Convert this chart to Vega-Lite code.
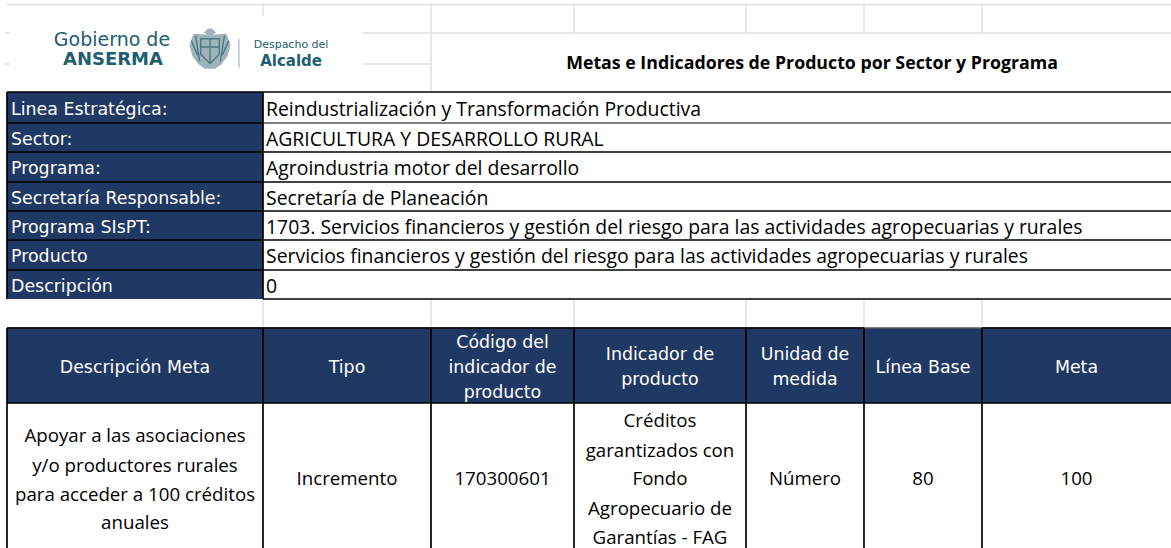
{
"$schema":"https://vega.github.io/schema/vega-lite/v6.json",
"width":1171,"height":548,"padding":0,
"autosize":{"type":"fit","contains":"padding"},
"background":"white",
"view":{"stroke":null},
"datasets":{
"navy":[{"c0":1,"c1":2,"r0":4,"r1":11},{"c0":1,"c1":8,"r0":12,"r1":13}],
"gray":[
{"c0":1,"c1":8,"r0":1,"r1":1},{"c0":2.595,"c1":8,"r0":2,"r1":2},{"c0":2.595,"c1":3,"r0":3,"r1":3},{"c0":0.7,"c1":1.012,"r0":2,"r1":2},{"c0":0.7,"c1":1.012,"r0":3,"r1":3},
{"c0":2,"c1":2,"r0":1,"r1":1.4},{"c0":3,"c1":3,"r0":1,"r1":4},{"c0":4,"c1":4,"r0":1,"r1":2},{"c0":5,"c1":5,"r0":1,"r1":2},{"c0":6,"c1":6,"r0":1,"r1":2},{"c0":7,"c1":7,"r0":1,"r1":2},
{"c0":2,"c1":2,"r0":11,"r1":12},{"c0":3,"c1":3,"r0":11,"r1":12},{"c0":4,"c1":4,"r0":11,"r1":12},{"c0":5,"c1":5,"r0":11,"r1":12},{"c0":6,"c1":6,"r0":11,"r1":12},{"c0":7,"c1":7,"r0":11,"r1":12}
],
"dark":[{"c0":1,"c1":8,"r0":12,"r1":12},{"c0":2,"c1":8,"r0":5,"r1":5}],
"black":[
{"c0":1,"c1":8,"r0":4,"r1":4},{"c0":1,"c1":8,"r0":6,"r1":6},{"c0":1,"c1":8,"r0":7,"r1":7},{"c0":1,"c1":8,"r0":8,"r1":8},{"c0":1,"c1":8,"r0":9,"r1":9},{"c0":1,"c1":8,"r0":10,"r1":10},{"c0":2,"c1":8,"r0":11,"r1":11},{"c0":1,"c1":2,"r0":5,"r1":5},
{"c0":1,"c1":1,"r0":4,"r1":11},{"c0":2,"c1":2,"r0":4,"r1":11},
{"c0":1,"c1":6,"r0":12,"r1":12},{"c0":7,"c1":8,"r0":12,"r1":12},{"c0":1,"c1":8,"r0":13,"r1":13},
{"c0":1,"c1":1,"r0":12,"r1":14},{"c0":2,"c1":2,"r0":12,"r1":14},{"c0":3,"c1":3,"r0":12,"r1":14},{"c0":4,"c1":4,"r0":12,"r1":14},{"c0":5,"c1":5,"r0":12,"r1":14},{"c0":6,"c1":6,"r0":12,"r1":14},{"c0":7,"c1":7,"r0":12,"r1":14}
],
"labels":[
{"c":1,"r":4.5,"t":"Linea Estratégica:"},{"c":1,"r":5.5,"t":"Sector:"},{"c":1,"r":6.5,"t":"Programa:"},{"c":1,"r":7.5,"t":"Secretaría Responsable:"},{"c":1,"r":8.5,"t":"Programa SIsPT:"},{"c":1,"r":9.5,"t":"Producto"},{"c":1,"r":10.5,"t":"Descripción"}
],
"values":[
{"c":2,"r":4.5,"t":"Reindustrialización y Transformación Productiva"},{"c":2,"r":5.5,"t":"AGRICULTURA Y DESARROLLO RURAL"},{"c":2,"r":6.5,"t":"Agroindustria motor del desarrollo"},{"c":2,"r":7.5,"t":"Secretaría de Planeación"},{"c":2,"r":8.5,"t":"1703. Servicios financieros y gestión del riesgo para las actividades agropecuarias y rurales"},{"c":2,"r":9.5,"t":"Servicios financieros y gestión del riesgo para las actividades agropecuarias y rurales"},{"c":2,"r":10.5,"t":"0"}
],
"headers":[
{"c":1.5,"r":12.533,"t":"Descripción Meta"},{"c":2.5,"r":12.533,"t":"Tipo"},
{"c":3.5,"r":12.2,"t":"Código del"},{"c":3.5,"r":12.533,"t":"indicador de"},{"c":3.5,"r":12.867,"t":"producto"},
{"c":4.5,"r":12.36,"t":"Indicador de"},{"c":4.5,"r":12.693,"t":"producto"},
{"c":5.5,"r":12.36,"t":"Unidad de"},{"c":5.5,"r":12.693,"t":"medida"},
{"c":6.5,"r":12.533,"t":"Línea Base"},{"c":7.5,"r":12.533,"t":"Meta"}
],
"body":[
{"c":1.5,"r":13.221,"t":"Apoyar a las asociaciones"},{"c":1.5,"r":13.428,"t":"y/o productores rurales"},{"c":1.5,"r":13.628,"t":"para acceder a 100 créditos"},{"c":1.5,"r":13.821,"t":"anuales"},
{"c":2.5,"r":13.517,"t":"Incremento"},{"c":3.5,"r":13.517,"t":"170300601"},
{"c":4.5,"r":13.117,"t":"Créditos"},{"c":4.5,"r":13.324,"t":"garantizados con"},{"c":4.5,"r":13.517,"t":"Fondo"},{"c":4.5,"r":13.724,"t":"Agropecuario de"},{"c":4.5,"r":13.924,"t":"Garantías - FAG"},
{"c":5.5,"r":13.517,"t":"Número"},{"c":6.5,"r":13.517,"t":"80"},{"c":7.5,"r":13.517,"t":"100"}
],
"title":[{"c":5.56,"r":3,"t":"Metas e Indicadores de Producto por Sector y Programa"}],
"logoA":[{"c":1.41,"r":2.22,"t":"Gobierno de"}],
"logoB":[{"c":1.414,"r":2.87,"t":"ANSERMA"}],
"logoC":[{"c":2.167,"r":2.38,"t":"Despacho del"}],
"logoD":[{"c":2.167,"r":2.9,"t":"Alcalde"}],
"logoE":[{"c":1.793,"r":2.52}],
"logoF":[{"c0":1.906,"c1":1.906,"r0":2.2,"r1":3.13}]
},
"layer":[
{"data":{"name":"navy"},"mark":{"type":"rect","color":"#1f3864"},"encoding":{
"x":{"field":"c0","type":"quantitative","axis":null,"scale":{"domain":[0,1,2,3,4,5,6,7,8],"range":[0,7,263,431,574,746,864,982,1171],"nice":false,"zero":false}},"x2":{"field":"c1"},
"y":{"field":"r0","type":"quantitative","axis":null,"scale":{"domain":[0,1,2,3,4,5,6,7,8,9,10,11,12,13,14],"range":[0,4.5,33,64,92,123,152,182,211,240,270,299,328,403,548],"nice":false,"zero":false}},"y2":{"field":"r1"}}},
{"data":{"name":"gray"},"mark":{"type":"rule","color":"#e0e0e0","strokeWidth":1.5},"encoding":{"x":{"field":"c0","type":"quantitative"},"x2":{"field":"c1"},"y":{"field":"r0","type":"quantitative"},"y2":{"field":"r1"}}},
{"data":{"name":"dark"},"mark":{"type":"rule","color":"#555555","strokeWidth":1.5},"encoding":{"x":{"field":"c0","type":"quantitative"},"x2":{"field":"c1"},"y":{"field":"r0","type":"quantitative"},"y2":{"field":"r1"}}},
{"data":{"name":"black"},"mark":{"type":"rule","color":"#000000","strokeWidth":1.7},"encoding":{"x":{"field":"c0","type":"quantitative"},"x2":{"field":"c1"},"y":{"field":"r0","type":"quantitative"},"y2":{"field":"r1"}}},
{"data":{"name":"labels"},"mark":{"type":"text","align":"left","baseline":"middle","dx":4,"dy":2,"font":"DejaVu Sans","fontSize":17.4,"color":"white"},"encoding":{"x":{"field":"c","type":"quantitative"},"y":{"field":"r","type":"quantitative"},"text":{"field":"t"}}},
{"data":{"name":"values"},"mark":{"type":"text","align":"left","baseline":"middle","dx":3,"dy":2,"font":"Open Sans","fontSize":19.4,"color":"black"},"encoding":{"x":{"field":"c","type":"quantitative"},"y":{"field":"r","type":"quantitative"},"text":{"field":"t"}}},
{"data":{"name":"headers"},"mark":{"type":"text","align":"center","baseline":"middle","font":"DejaVu Sans","fontSize":17.4,"color":"white"},"encoding":{"x":{"field":"c","type":"quantitative"},"y":{"field":"r","type":"quantitative"},"text":{"field":"t"}}},
{"data":{"name":"body"},"mark":{"type":"text","align":"center","baseline":"middle","dy":1,"font":"Open Sans","fontSize":18.7,"color":"black"},"encoding":{"x":{"field":"c","type":"quantitative"},"y":{"field":"r","type":"quantitative"},"text":{"field":"t"}}},
{"data":{"name":"title"},"mark":{"type":"text","align":"center","baseline":"middle","font":"Open Sans","fontSize":17.75,"fontWeight":"bold","color":"black"},"encoding":{"x":{"field":"c","type":"quantitative"},"y":{"field":"r","type":"quantitative"},"text":{"field":"t"}}},
{"data":{"name":"logoA"},"mark":{"type":"text","align":"center","baseline":"middle","font":"DejaVu Sans","fontSize":19,"color":"#1d5e70"},"encoding":{"x":{"field":"c","type":"quantitative"},"y":{"field":"r","type":"quantitative"},"text":{"field":"t"}}},
{"data":{"name":"logoB"},"mark":{"type":"text","align":"center","baseline":"middle","font":"DejaVu Sans","fontSize":18,"fontWeight":"bold","color":"#1d5e70"},"encoding":{"x":{"field":"c","type":"quantitative"},"y":{"field":"r","type":"quantitative"},"text":{"field":"t"}}},
{"data":{"name":"logoC"},"mark":{"type":"text","align":"center","baseline":"middle","font":"DejaVu Sans","fontSize":11,"color":"#1d5e70"},"encoding":{"x":{"field":"c","type":"quantitative"},"y":{"field":"r","type":"quantitative"},"text":{"field":"t"}}},
{"data":{"name":"logoD"},"mark":{"type":"text","align":"center","baseline":"middle","font":"DejaVu Sans","fontSize":15,"fontWeight":"bold","color":"#1d5e70"},"encoding":{"x":{"field":"c","type":"quantitative"},"y":{"field":"r","type":"quantitative"},"text":{"field":"t"}}},
{"data":{"name":"logoE"},"mark":{"type":"point","filled":true,"shape":"M-0.1 -1 L0.1 -1 L0.3 -0.8 L0.1 -0.7 L0.8 -0.75 L1 -0.2 L0.85 0.35 L0.55 0.75 L0.25 0.95 L-0.25 0.95 L-0.55 0.75 L-0.85 0.35 L-1 -0.2 L-0.8 -0.75 L-0.1 -0.7 L-0.3 -0.8 Z","size":1700,"color":"#7f9aa3","opacity":0.75},"encoding":{"x":{"field":"c","type":"quantitative"},"y":{"field":"r","type":"quantitative"}}},
{"data":{"name":"logoE"},"mark":{"type":"point","filled":false,"shape":"M-0.45 -0.5 L0.45 -0.5 L0.45 0.25 L0 0.7 L-0.45 0.25 Z M-0.45 -0.1 L0.45 -0.1 M0 -0.5 L0 0.7 M-0.9 -0.4 L-0.6 0.3 M0.9 -0.4 L0.6 0.3 M-0.7 -0.65 L-0.5 0.6 M0.7 -0.65 L0.5 0.6","size":1700,"color":"#2c5f6e","strokeWidth":1.4},"encoding":{"x":{"field":"c","type":"quantitative"},"y":{"field":"r","type":"quantitative"}}},
{"data":{"name":"logoF"},"mark":{"type":"rule","color":"#8fa9b1","strokeWidth":1},"encoding":{"x":{"field":"c0","type":"quantitative"},"x2":{"field":"c1"},"y":{"field":"r0","type":"quantitative"},"y2":{"field":"r1"}}}
]
}
